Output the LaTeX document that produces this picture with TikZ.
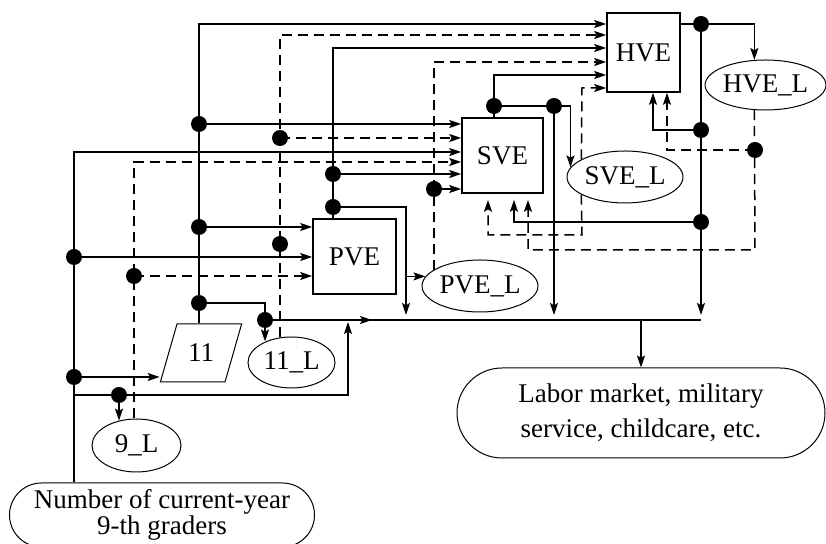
\documentclass[tikz,border=0pt]{standalone}
\usepackage{fontspec}
\setmainfont{Liberation Serif}
\usetikzlibrary{arrows.meta,shapes.geometric,shapes.misc}

\begin{document}
\begin{tikzpicture}[x=0.5pt,y=-0.5pt,line width=0.75pt,
		font=\fontsize{13.5pt}{16pt}\selectfont,
		box/.style={draw,line width=0.8pt,inner sep=0pt},
		lab/.style={draw,ellipse,line width=0.5pt,inner sep=0pt,minimum width=58pt,minimum height=26pt},
		term/.style={draw,rounded rectangle,line width=0.5pt,align=center,inner sep=0pt},
		arr/.style={-{Stealth[length=6pt,width=4pt,inset=1.2pt]}},
		dsh/.style={dash pattern=on 5pt off 3pt}]
		%\draw[help lines] (0,0) grid (826,544);
		\useasboundingbox (0,0) rectangle (826,544);
		\clip (0,0) rectangle (826,544);
		% blocks
		\node[box,minimum width=36.5pt,minimum height=39.5pt] (HVE) at (643.5,52.5) {HVE};
		\node[box,minimum width=40.5pt,minimum height=37.5pt] (SVE) at (502.5,155.5) {SVE};
		\node[box,minimum width=41.5pt,minimum height=37.5pt] (PVE) at (354.5,256.5) {PVE};
		\node[draw,line width=0.5pt,trapezium,trapezium left angle=74,trapezium right angle=106,
			text height=9pt,text depth=0pt,inner xsep=5.5pt,inner ysep=10pt] (n11) at (201,353) {11};
		\node[lab,minimum width=57.5pt,minimum height=25pt] (hvel) at (765.5,85) {HVE\_L};
		\node[lab] (svel) at (625,177) {SVE\_L};
		\node[lab] (pvel) at (480,286) {PVE\_L};
		\node[lab,minimum width=43.5pt,minimum height=25.5pt] (l11) at (291.5,362.5) {11\_L};
		\node[lab,minimum width=44.5pt,minimum height=26.5pt] (l9) at (136.5,445.5) {9\_L};
		\node[term,minimum width=152.5pt,minimum height=32pt,font=\fontsize{13.5pt}{12.6pt}\selectfont]
			(grad) at (162,515) {Number of current-year\\9-th graders};
		\node[term,minimum width=184pt,minimum height=45pt,font=\fontsize{13.5pt}{17.5pt}\selectfont]
			(labor) at (641,413) {Labor market, military\\service, childcare, etc.};
		% branch points
		\coordinate (dA) at (199,124);
		\coordinate (dB) at (199,227);
		\coordinate (dC) at (199,303);
		\coordinate (dD) at (265,320);
		\coordinate (dE) at (280,138);
		\coordinate (dF) at (280,244);
		\coordinate (dG) at (333,174);
		\coordinate (dH) at (333,207);
		\coordinate (dI) at (74,257);
		\coordinate (dJ) at (74,377);
		\coordinate (dK) at (119,395);
		\coordinate (dL) at (134,276);
		\coordinate (dM) at (434,189);
		\coordinate (dN) at (494,106);
		\coordinate (dO) at (554,106);
		\coordinate (dP) at (701,24);
		\coordinate (dQ) at (701,130);
		\coordinate (dR) at (701,222);
		\coordinate (dS) at (755,150);
		% corners
		\coordinate (c11) at (199,24);
		\coordinate (cN) at (74,152);
		\coordinate (cK) at (348,395);
		\coordinate (cP) at (333,48);
		\coordinate (cH) at (406,207);
		\coordinate (cS) at (494,75);
		\coordinate (cE) at (280,35);
		\coordinate (cL) at (134,162);
		\coordinate (cM) at (434,62);
		\coordinate (cT) at (582,88);
		\coordinate (cT2) at (582,235);
		\coordinate (cT3) at (488,235);
		\coordinate (cU) at (755,250);
		\coordinate (cV) at (528,250);
		\coordinate (cW) at (667,150);
		\coordinate (cQ) at (653,130);
		\coordinate (cR) at (514,222);
		\coordinate (cm) at (372,320);

		% 11th grade
		\draw[arr] (c11 |- n11.north) -- (c11) -- (c11 -| HVE.west);
		\draw[arr] (dA) -- (dA -| SVE.west);
		\draw[arr] (dB) -- (dB -| PVE.west);
		\draw (dC) -| (dD);
		\draw[arr] (dD) -- (dD |- l11.141);
		\draw (dD) -- (dD -| dP);
		\draw[arr] (dD) -- (cm);
		\draw[arr] (labor.north |- dD) -- (labor.north);
		% 9th graders
		\draw[arr] (cN |- grad.north) -- (cN) -- (cN -| SVE.west);
		\draw[arr] (dI) -- (dI -| PVE.west);
		\draw[arr] (dJ) -- (dJ -| n11.bottom left corner);
		\draw[arr,shorten >=1pt] (dK -| cN) -- (cK) -- (cK |- dD);
		\draw[arr] (dK) -- (dK |- l9.125);
		% PVE
		\draw[arr] (dG |- PVE.north) -- (cP) -- (cP -| HVE.west);
		\draw[arr] (dG) -- (dG -| SVE.west);
		\draw[arr,shorten >=2.5pt] (dH) -- (cH) -- (cH |- dD);
		\draw[arr] (cH |- pvel.170) -- (pvel.170);
		% SVE
		\draw[arr] (dN |- SVE.north) -- (cS) -- (cS -| HVE.west);
		\draw (dN) -- (dO);
		\draw[arr] (dO) -| (svel.170);
		\draw[arr,shorten >=2.5pt] (dO) -- (dO |- dD);
		% HVE
		\draw (HVE.east |- dP) -- (dP);
		\draw[arr] (dP) -| (hvel.114);
		\draw[arr,shorten >=2.5pt] (dP) -- (dP |- dD);
		\draw[arr] (dQ) -- (cQ) -- (cQ |- HVE.south);
		\draw[arr,shorten >=3pt] (dR) -- (cR) -- (cR |- SVE.south);
		% leavers (dashed)
		\draw[arr,dsh] (cE |- l11.114) -- (cE) -- (cE -| HVE.west);
		\draw[arr,dsh] (dE) -- (dE -| SVE.west);
		\draw[arr,dsh] (cL |- l9.north) -- (cL) -- (cL -| SVE.west);
		\draw[arr,dsh] (dL) -- (dL -| PVE.west);
		\draw[arr,dsh] (cM |- pvel.161) -- (cM) -- (cM -| HVE.west);
		\draw[arr] (dM) -- (dM -| SVE.west);
		\draw[arr,dsh] (svel.158) -- (cT) -- (cT -| HVE.west);
		\draw[arr,dsh,shorten >=3pt] (svel.202) -- (cT2) -- (cT3) -- (cT3 |- SVE.south);
		\draw[arr,dsh,shorten >=3pt] (hvel.246) -- (cU) -- (cV) -- (cV |- SVE.south);
		\draw[arr,dsh] (dS) -- (cW) -- (cW |- HVE.south);

		\foreach \d in {dA,dB,dC,dD,dE,dF,dG,dH,dI,dJ,dK,dL,dM,dN,dO,dP,dQ,dR,dS} {
			\fill (\d) circle [radius=4pt];
		}
\end{tikzpicture}
\end{document}
